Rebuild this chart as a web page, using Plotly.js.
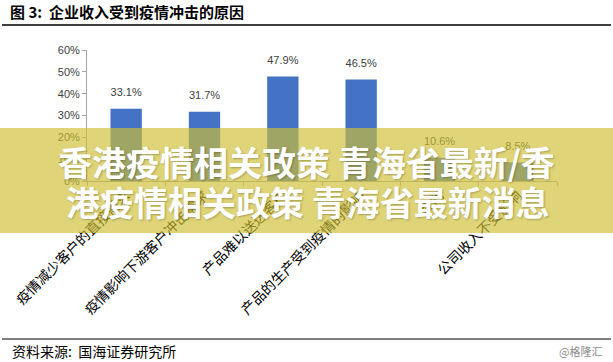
<!DOCTYPE html>
<html>
<head>
<meta charset="utf-8">
<script src="https://cdn.plot.ly/plotly-3.0.1.min.js"></script>
<style>html,body{margin:0;padding:0;background:#fff;}#chart{width:613px;height:362px;}</style>
</head>
<body>
<div id="chart"></div>
<script>
const categories = ["疫情减少客户的直接需求", "疫情影响下游客户冲击需求", "产品难以送达客户", "产品的生产受到疫情的影响", "其他", "公司收入不受影响"];
const shares = [33.1, 31.7, 47.9, 46.5, 10.6, 8.5];
const yTickVals = [0, 10, 20, 30, 40, 50, 60];
const yTickText = ["0%", "10%", "20%", "30%", "40%", "50%", "60%"];
const titleText = "图 3:  企业收入受到疫情冲击的原因";
const sourceText = "资料来源:  国海证券研究所";
const creditText = "@格隆汇";
const overlayLines = ["香港疫情相关政策 青海省最新/香", "港疫情相关政策 青海省最新消息"];

const W = 613, H = 362, L = 87, R = 56, T = 50, B = 181;
const pw = W - L - R, ph = H - T - B;
const px = v => (v - L) / pw;
const py = v => (H - B - v) / ph;

const cjk = '"Noto Sans CJK SC", "Noto Sans", sans-serif';
const latin = '"Liberation Sans", Arial, sans-serif';

const traces = [
  {
    type: 'bar',
    x: categories,
    y: shares,
    marker: {color: '#4472C4'},
    hoverinfo: 'skip'
  },
  {
    type: 'scatter',
    mode: 'markers+text',
    x: categories,
    y: shares,
    text: shares.map(v => v.toFixed(1) + '%'),
    textposition: 'top center',
    textfont: {family: latin, size: 11, color: '#404040'},
    marker: {size: 14, opacity: 0},
    hoverinfo: 'skip'
  }
];

const layout = {
  width: W, height: H,
  margin: {l: L, r: R, t: T, b: B, pad: 0},
  paper_bgcolor: '#ffffff',
  plot_bgcolor: '#ffffff',
  showlegend: false,
  bargap: 0.6,
  title: {
    text: titleText,
    x: 10 / W, xanchor: 'left', xref: 'container',
    y: 1 - 13 / H, yanchor: 'middle', yref: 'container',
    font: {family: cjk, size: 15, color: '#000000', weight: 'bold'}
  },
  xaxis: {
    type: 'category',
    showline: true, linecolor: '#a6a6a6', linewidth: 1,
    ticks: 'outside', tickson: 'boundaries', ticklen: 4, tickcolor: '#a6a6a6',
    tickangle: -45,
    tickfont: {family: cjk, size: 14, color: '#000000'},
    showgrid: false, zeroline: false, fixedrange: true
  },
  yaxis: {
    range: [0, 60],
    tickvals: yTickVals, ticktext: yTickText,
    showline: true, linecolor: '#a6a6a6', linewidth: 1,
    ticks: 'outside', ticklen: 4, tickcolor: '#a6a6a6',
    tickfont: {family: latin, size: 11, color: '#404040'},
    showgrid: false, zeroline: false, fixedrange: true
  },
  shapes: [
    {type: 'line', xref: 'paper', yref: 'paper', x0: px(2), x1: px(611), y0: py(25), y1: py(25),
     line: {color: '#000000', width: 1.5}, layer: 'above'},
    {type: 'line', xref: 'paper', yref: 'paper', x0: px(2), x1: px(611), y0: py(339), y1: py(339),
     line: {color: '#000000', width: 1.2}, layer: 'above'},
    {type: 'rect', xref: 'paper', yref: 'paper', x0: px(0), x1: px(W), y0: py(233), y1: py(128),
     fillcolor: 'rgba(206,191,50,0.66)', line: {width: 0}, layer: 'above'}
  ],
  annotations: [
    {text: sourceText, xref: 'paper', yref: 'paper', x: px(10), y: py(351), xanchor: 'left', yanchor: 'middle',
     showarrow: false, font: {family: cjk, size: 14, color: '#000000'}},
    {text: creditText, xref: 'paper', yref: 'paper', x: px(604), y: py(351), xanchor: 'right', yanchor: 'middle',
     showarrow: false, font: {family: cjk, size: 11, color: '#8c8c8c'}},
    {text: overlayLines[0], xref: 'paper', yref: 'paper', x: px(306.5), y: py(161), xanchor: 'center', yanchor: 'middle',
     showarrow: false, font: {family: cjk, size: 34, color: '#ffffff', weight: 'bold', shadow: '1px 1px 2px rgba(0,0,0,0.25)'}},
    {text: overlayLines[1], xref: 'paper', yref: 'paper', x: px(307.5), y: py(201), xanchor: 'center', yanchor: 'middle',
     showarrow: false, font: {family: cjk, size: 34, color: '#ffffff', weight: 'bold', shadow: '1px 1px 2px rgba(0,0,0,0.25)'}}
  ]
};

Plotly.newPlot('chart', traces, layout, {staticPlot: true, displayModeBar: false});
</script>
</body>
</html>
